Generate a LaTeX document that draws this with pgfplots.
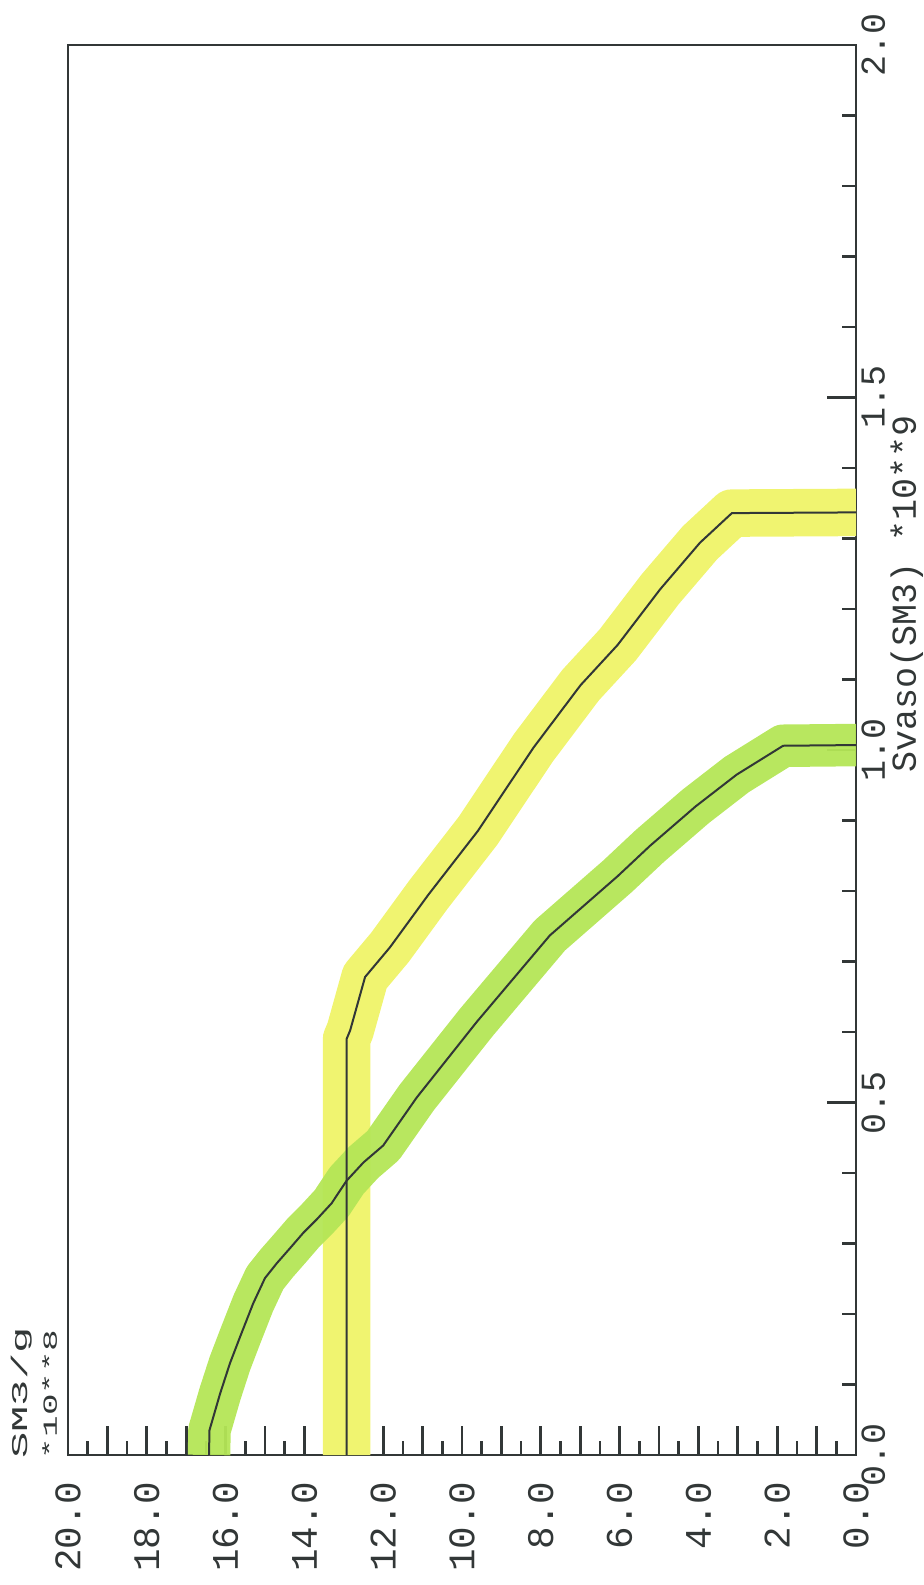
\documentclass[border=0pt]{standalone}
\usepackage{pgfplots}
\usepackage{pgfplotstable}
\pgfplotsset{compat=1.18}
\usepackage{fontspec}
\newfontfamily\plotfont{Liberation Mono}
\definecolor{hlyellow}{RGB}{240,244,112}
\definecolor{hlgreen}{RGB}{180,230,86}
\definecolor{ink}{RGB}{50,55,55}

\pgfplotstableread{
x y
0.000 12.93
0.590 12.93
0.602 12.84
0.678 12.46
0.720 11.83
0.795 10.85
0.885 9.60
1.003 8.19
1.092 6.99
1.149 6.05
1.228 4.97
1.294 3.96
1.336 3.15
1.337 0.00
}\yellowdata

\pgfplotstableread{
x y
0.000 16.42
0.035 16.41
0.087 16.14
0.130 15.89
0.168 15.63
0.215 15.30
0.251 15.00
0.272 14.70
0.293 14.37
0.315 14.03
0.334 13.69
0.357 13.31
0.389 12.93
0.415 12.50
0.439 12.00
0.507 11.15
0.614 9.63
0.737 7.77
0.821 6.05
0.864 5.23
0.920 4.07
0.965 3.03
1.006 1.85
1.007 0.00
}\greendata

\begin{document}
\begin{tikzpicture}[rotate=90, transform shape]
\begin{axis}[
  width=564pt, height=315.2pt, scale only axis,
  xmin=0, xmax=2, ymin=0, ymax=20,
  axis line style={ink, line width=1.1pt},
  xtick={0,0.5,1,1.5,2}, xticklabels={0.0,0.5,1.0,1.5,2.0},
  minor x tick num=4,
  ytick={0,1,...,20},
  yticklabels={0.0,,2.0,,4.0,,6.0,,8.0,,10.0,,12.0,,14.0,,16.0,,18.0,,20.0},
  minor y tick num=1,
  xtick pos=bottom, ytick pos=left, tick align=inside,
  major tick length=11.8pt, minor tick length=5.8pt,
  tick style={ink, line width=1.1pt},
  xticklabel style={font=\fontsize{14}{14}\selectfont\plotfont, text=ink, anchor=north, inner sep=0pt, yshift=-2pt},
  yticklabel style={font=\fontsize{15}{15}\selectfont\plotfont, text=ink, anchor=east, inner sep=0pt, xshift=-10.4pt},
  clip=false,
]
\addplot[hlyellow, line width=19pt, line join=round] table {\yellowdata};
\addplot[hlgreen, line width=17pt, line join=round, opacity=0.95] table {\greendata};
\addplot[ink, line width=0.8pt] table {\yellowdata};
\addplot[ink, line width=0.8pt] table {\greendata};
\node[anchor=base west, inner sep=0pt, font=\fontsize{14}{14}\selectfont\plotfont, text=ink] at (axis cs:0.968,-1.52) {Svaso(SM3) *10**9};
\node[anchor=base west, inner sep=0pt, font=\fontsize{9}{9}\selectfont\plotfont, text=ink, xscale=1.95] at (axis cs:-0.007,21.02) {SM3/g};
\node[anchor=base west, inner sep=0pt, font=\fontsize{8}{8}\selectfont\plotfont, text=ink, xscale=1.8] at (axis cs:-0.007,20.28) {*10**8};
\path (rel axis cs:-0.0922,-0.0838) rectangle (rel axis cs:1.0319,1.0863);
\end{axis}
\end{tikzpicture}
\end{document}
